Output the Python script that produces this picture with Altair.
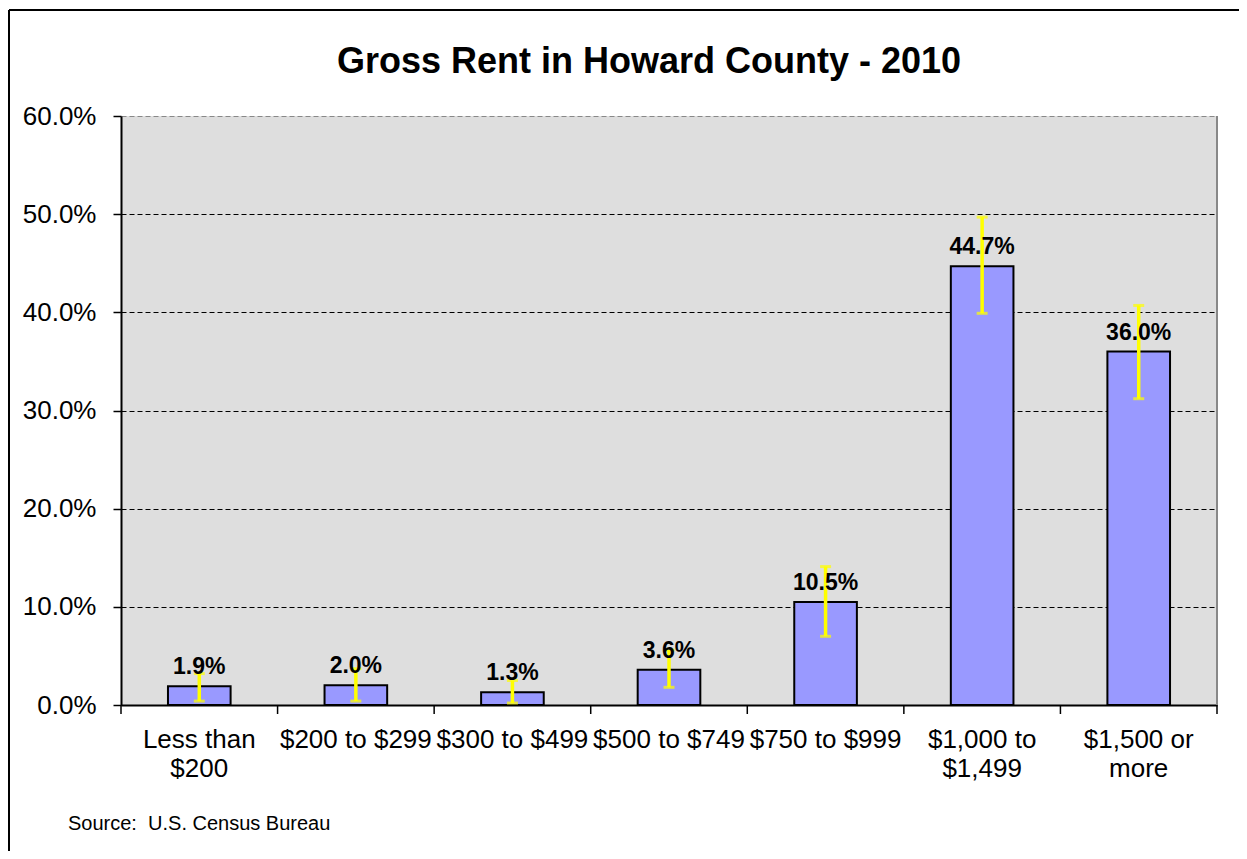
import altair as alt
import pandas as pd

categories = ["Less than\n$200", "$200 to $299", "$300 to $499", "$500 to $749",
              "$750 to $999", "$1,000 to\n$1,499", "$1,500 or\nmore"]
values = [1.9, 2.0, 1.3, 3.6, 10.5, 44.7, 36.0]
err_low = [0.4, 0.4, 0.2, 1.8, 7.0, 39.9, 31.2]
err_high = [3.2, 3.7, 2.5, 5.6, 14.1, 49.7, 40.7]
y_ticks = [0, 10, 20, 30, 40, 50, 60]

df = pd.DataFrame({"cat": categories, "value": values, "lo": err_low, "hi": err_high,
                   "label": [f"{v:.1f}%" for v in values]})

W, H = 1096, 589
FONT = "Liberation Sans"

xscale = alt.Scale(domain=categories, paddingInner=0, paddingOuter=0)
yscale = alt.Scale(domain=[0, 60], nice=False)

base = alt.Chart(df)

bars = base.mark_bar(color="#9999FF", stroke="black", strokeWidth=2,
                     width=alt.RelativeBandSize(0.4)).encode(
    x=alt.X("cat:N", scale=xscale, sort=categories,
            axis=alt.Axis(title=None, labelAngle=0, ticks=False, tickSize=0,
                          labelExpr="split(datum.label, '\\n')",
                          labelFont=FONT, labelFontSize=26, labelColor="black",
                          labelLineHeight=29, labelPadding=21, labelBaseline="top",
                          domainColor="black", domainWidth=2, labelLimit=300)),
    y=alt.Y("value:Q", scale=yscale,
            axis=alt.Axis(title=None, values=y_ticks, grid=True,
                          gridColor=alt.condition("datum.value == 60", alt.value("#888888"), alt.value("black")),
                          gridDash=[5, 3], gridWidth=1.2,
                          labelExpr="format(datum.value, '.1f') + '%'",
                          labelFont=FONT, labelFontSize=26, labelColor="black",
                          labelPadding=17, tickSize=8, tickColor="black", tickWidth=1.5,
                          domainColor="black", domainWidth=2)),
)

err = base.mark_rule(color="#FFFF00", strokeWidth=3.5).encode(
    x=alt.X("cat:N", scale=xscale, sort=categories),
    y="lo:Q", y2="hi:Q")

cap_lo = base.mark_tick(color="#FFFF00", size=11, thickness=3).encode(
    x=alt.X("cat:N", scale=xscale, sort=categories), y="lo:Q")
cap_hi = base.mark_tick(color="#FFFF00", size=11, thickness=3).encode(
    x=alt.X("cat:N", scale=xscale, sort=categories), y="hi:Q")

labels = base.mark_text(font=FONT, fontSize=23, fontWeight="bold", color="black",
                        baseline="alphabetic", dy=-12).encode(
    x=alt.X("cat:N", scale=xscale, sort=categories),
    y="value:Q", text="label:N")

xticks = base.mark_rule(color="black", strokeWidth=1.5).encode(
    x=alt.X("cat:N", scale=xscale, sort=categories, bandPosition=0),
    y=alt.value(H), y2=alt.value(H + 9))

one = pd.DataFrame({"a": [0]})
xtick_end = alt.Chart(one).mark_rule(color="black", strokeWidth=1.5).encode(
    x=alt.value(W), y=alt.value(H), y2=alt.value(H + 9))

right_edge = alt.Chart(one).mark_rule(color="#888888", strokeWidth=2).encode(
    x=alt.value(W), y=alt.value(0), y2=alt.value(H))

title = alt.Chart(pd.DataFrame({"t": ["Gross Rent in Howard County - 2010"]})).mark_text(
    font=FONT, fontSize=36, fontWeight="bold", color="black", align="center",
    baseline="alphabetic").encode(x=alt.value(528), y=alt.value(-43), text="t:N")

source = alt.Chart(pd.DataFrame({"t": ["Source:\u00a0 U.S. Census Bureau"]})).mark_text(
    font=FONT, fontSize=20, color="black", align="left",
    baseline="alphabetic").encode(x=alt.value(-53), y=alt.value(714), text="t:N")

frame_top = alt.Chart(one).mark_rule(color="black", strokeWidth=2).encode(
    x=alt.value(-112), x2=alt.value(W + 200), y=alt.value(-106))
frame_left = alt.Chart(one).mark_rule(color="black", strokeWidth=2).encode(
    x=alt.value(-112), y=alt.value(-106), y2=alt.value(H + 300))

chart = alt.layer(
    bars, err, cap_lo, cap_hi, labels, xticks, xtick_end, right_edge, title, source,
    frame_top, frame_left
).properties(
    width=W, height=H,
    autosize=alt.AutoSizeParams(type="none"),
    padding={"left": 113, "top": 108, "right": 22, "bottom": 146},
    background="white",
).configure_view(fill="#DEDEDE", stroke=None)

chart.save("out.html", embed_options={"renderer": "svg", "actions": False})
